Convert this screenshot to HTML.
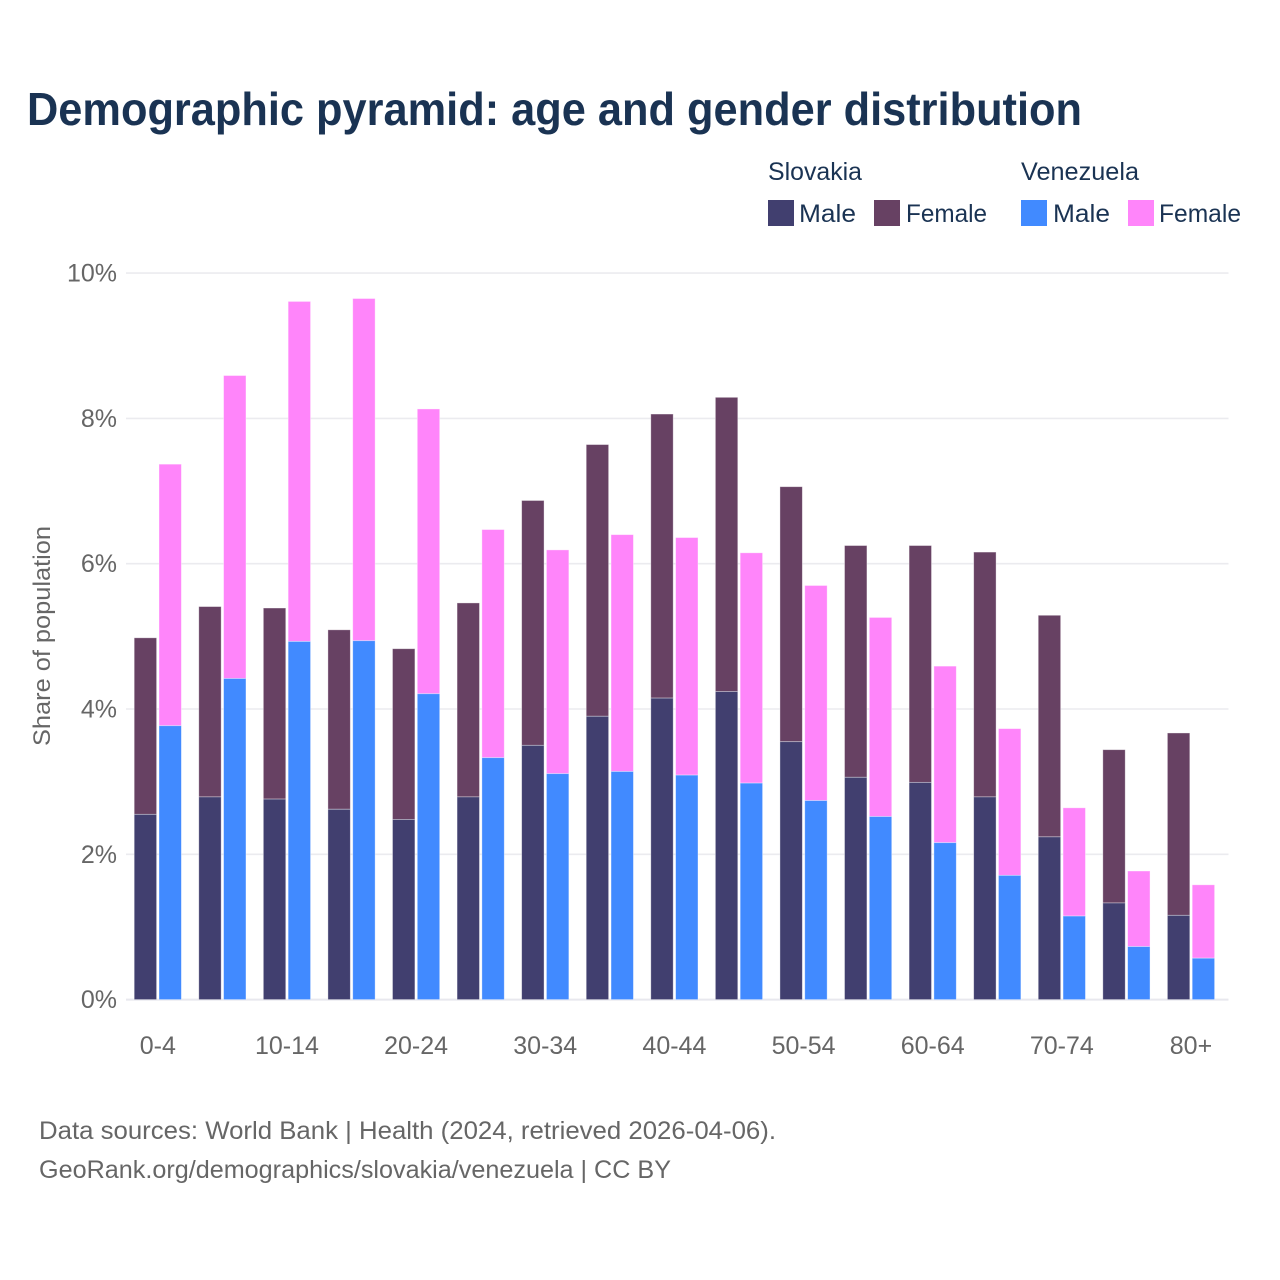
<!DOCTYPE html>
<html lang="en">
<head>
<meta charset="utf-8">
<title>Demographic pyramid: age and gender distribution</title>
<style>
html,body{margin:0;padding:0;background:#fff;}
svg{display:block;font-family:"Liberation Sans",sans-serif;}
</style>
</head>
<body>
<svg id="chart" width="1280" height="1280" viewBox="0 0 1280 1280" xmlns="http://www.w3.org/2000/svg">
  <rect width="1280" height="1280" fill="#ffffff"/>
  <text x="27" y="125" font-size="46" font-weight="700" fill="#1a3353" textLength="1055" lengthAdjust="spacingAndGlyphs">Demographic pyramid: age and gender distribution</text>

  <g>
    <text x="768" y="180" font-size="25" fill="#1a3353" textLength="94" lengthAdjust="spacingAndGlyphs">Slovakia</text>
    <text x="1021" y="180" font-size="25" fill="#1a3353" textLength="118" lengthAdjust="spacingAndGlyphs">Venezuela</text>
    <rect x="768" y="200" width="26" height="26" fill="#413f6f"/>
    <text x="799" y="222" font-size="25" fill="#1a3353" textLength="57" lengthAdjust="spacingAndGlyphs">Male</text>
    <rect x="874" y="200" width="26" height="26" fill="#674163"/>
    <text x="906" y="222" font-size="25" fill="#1a3353" textLength="81" lengthAdjust="spacingAndGlyphs">Female</text>
    <rect x="1021" y="200" width="26" height="26" fill="#418aff"/>
    <text x="1053" y="222" font-size="25" fill="#1a3353" textLength="57" lengthAdjust="spacingAndGlyphs">Male</text>
    <rect x="1128" y="200" width="26" height="26" fill="#ff85fa"/>
    <text x="1159" y="222" font-size="25" fill="#1a3353" textLength="82" lengthAdjust="spacingAndGlyphs">Female</text>
  </g>

  <g id="grid"></g>
  <g id="yticks"></g>
  <g id="bars"></g>
  <g id="xticks"></g>

  <text transform="translate(50,636) rotate(-90)" text-anchor="middle" font-size="24" fill="#666666" textLength="220" lengthAdjust="spacingAndGlyphs">Share of population</text>

  <text x="39" y="1139" font-size="25" fill="#666666" textLength="737" lengthAdjust="spacingAndGlyphs">Data sources: World Bank | Health (2024, retrieved 2026-04-06).</text>
  <text x="39" y="1178" font-size="25" fill="#666666" textLength="632" lengthAdjust="spacingAndGlyphs">GeoRank.org/demographics/slovakia/venezuela | CC BY</text>
</svg>
<script>
const categories = ["0-4","5-9","10-14","15-19","20-24","25-29","30-34","35-39","40-44","45-49","50-54","55-59","60-64","65-69","70-74","75-79","80+"];
const visibleCategoryLabels = ["0-4","10-14","20-24","30-34","40-44","50-54","60-64","70-74","80+"];
const slovakiaMale = [2.55,2.79,2.76,2.62,2.48,2.79,3.50,3.90,4.15,4.24,3.55,3.06,2.99,2.79,2.24,1.33,1.16];
const slovakiaFemale = [2.43,2.62,2.63,2.47,2.35,2.67,3.37,3.74,3.91,4.05,3.51,3.19,3.26,3.37,3.05,2.11,2.51];
const venezuelaMale = [3.77,4.42,4.93,4.94,4.21,3.33,3.11,3.14,3.09,2.98,2.74,2.52,2.16,1.71,1.15,0.73,0.57];
const venezuelaFemale = [3.60,4.17,4.68,4.71,3.92,3.14,3.08,3.26,3.27,3.17,2.96,2.74,2.43,2.02,1.49,1.04,1.01];
const yTicks = [0,2,4,6,8,10];

const NS = "http://www.w3.org/2000/svg";
const yScale = v => 999.6 - v * 72.65;
const xCenter = i => 157.8 + i * 64.575;
const barWidth = 22.4;
const barOffset = 1.2;

function make(tag, parent, attrs) {
  const el = document.createElementNS(NS, tag);
  for (const k in attrs) el.setAttribute(k, attrs[k]);
  parent.appendChild(el);
  return el;
}

const gridG = document.getElementById("grid");
const yG = document.getElementById("yticks");
yTicks.forEach(t => {
  const line = make("line", gridG, {x1:126, x2:1228.5, y1:yScale(t), y2:yScale(t), stroke:t === 0 ? "#e8e8ee" : "#ebebef", "stroke-width":t === 0 ? 2 : 1.6});
  
  
  const label = make("text", yG, {x:117, y:yScale(t) + 8.5, "text-anchor":"end", "font-size":25, fill:"#666666"});
  label.textContent = t + "%";
  
  
});

function drawBar(parent, x, base, value, color) {
  const top = yScale(base + value);
  const bottom = yScale(base);
  const r = make("rect", parent, {x:x, y:top, width:barWidth, height:bottom - top, fill:color, stroke:"#ffffff", "stroke-opacity":0.45, "stroke-width":0.8});
  
  
}

const barsG = document.getElementById("bars");
const xG = document.getElementById("xticks");
categories.forEach((cat, i) => {
  const c = xCenter(i);
  const left = c - barOffset - barWidth;
  const right = c + barOffset;
  drawBar(barsG, left, slovakiaMale[i], slovakiaFemale[i], "#674163");
  drawBar(barsG, left, 0, slovakiaMale[i], "#413f6f");
  drawBar(barsG, right, venezuelaMale[i], venezuelaFemale[i], "#ff85fa");
  drawBar(barsG, right, 0, venezuelaMale[i], "#418aff");
  if (visibleCategoryLabels.includes(cat)) {
    const label = make("text", xG, {x:c, y:1054, "text-anchor":"middle", "font-size":25, fill:"#666666"});
    label.textContent = cat;
    
    
  }
});
</script>
</body>
</html>
